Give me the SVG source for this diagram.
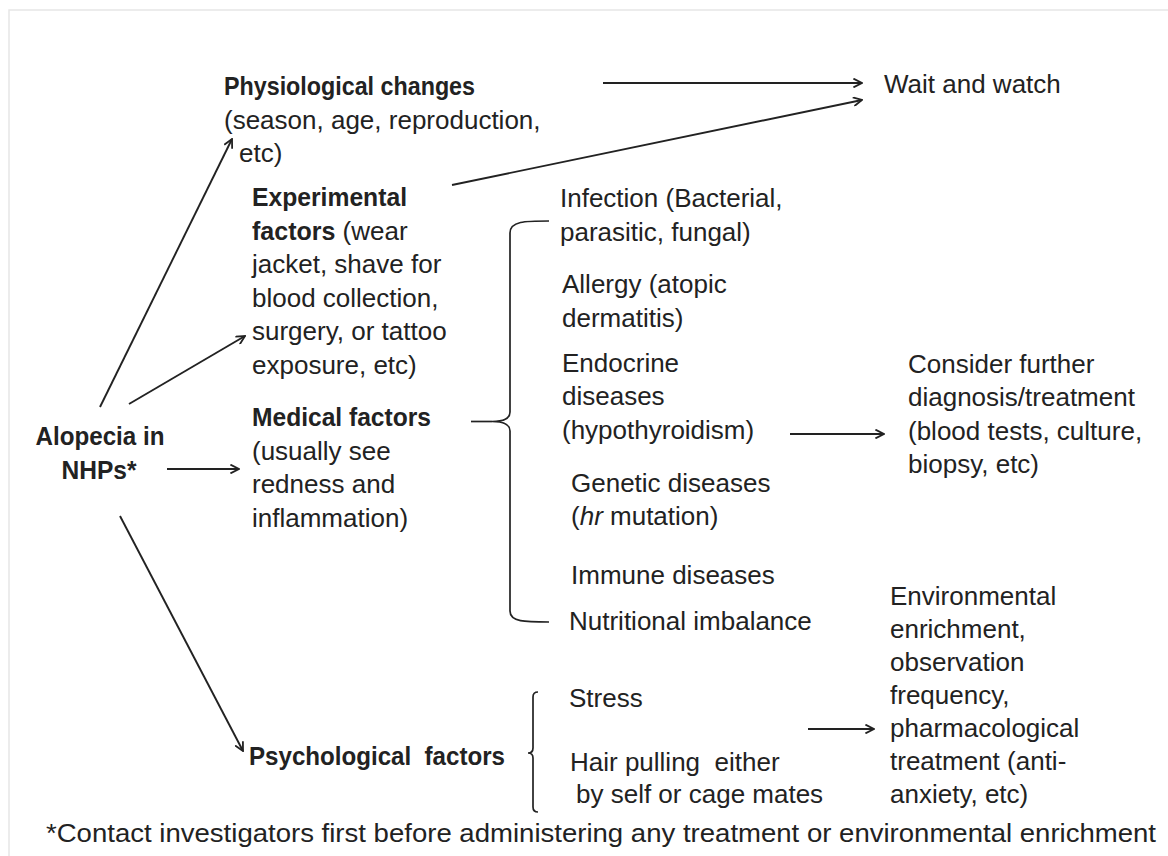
<svg xmlns="http://www.w3.org/2000/svg" width="1168" height="856" viewBox="0 0 1168 856">
<defs>
<marker id="arr" viewBox="0 0 10 10" refX="9.2" refY="5" markerWidth="10" markerHeight="10" markerUnits="userSpaceOnUse" orient="auto">
<path d="M0.6,0.6 L9.2,5 L0.6,9.4" fill="none" stroke="#222" stroke-width="1.8"/>
</marker>
</defs>
<style>
text{font-family:"Liberation Sans",Arial,sans-serif;font-size:26px;fill:#222}
.b{font-weight:bold;font-size:25px}
.c{stroke:#222;stroke-width:1.9;fill:none}
.br{stroke:#222;stroke-width:1.7;fill:none}
</style>
<rect width="1168" height="856" fill="#fff"/>
<path d="M9,856 L9,10 L1168,10" stroke="#e6e6e6" stroke-width="1.5" fill="none"/>

<g id="alopecia">
<text class="b" x="100" y="445" text-anchor="middle" textLength="129" lengthAdjust="spacingAndGlyphs">Alopecia in</text>
<text class="b" x="99" y="479" text-anchor="middle" textLength="75" lengthAdjust="spacingAndGlyphs">NHPs*</text>
</g>

<g id="physiological">
<text class="b" x="224" y="95" textLength="251" lengthAdjust="spacingAndGlyphs">Physiological changes</text>
<text x="224" y="128.5">(season, age, reproduction,</text>
<text x="239" y="162">etc)</text>
</g>

<g id="experimental">
<text class="b" x="252" y="206" textLength="155" lengthAdjust="spacingAndGlyphs">Experimental</text>
<text x="252" y="239.5" xml:space="preserve"><tspan class="b">factors</tspan> (wear</text>
<text x="252" y="273">jacket, shave for</text>
<text x="252" y="306.5">blood collection,</text>
<text x="252" y="340">surgery, or tattoo</text>
<text x="252" y="373.5">exposure, etc)</text>
</g>

<g id="medical">
<text class="b" x="252" y="426" textLength="179" lengthAdjust="spacingAndGlyphs">Medical factors</text>
<text x="252" y="459.5">(usually see</text>
<text x="252" y="493">redness and</text>
<text x="252" y="526.5">inflammation)</text>
</g>

<g id="psychological">
<text class="b" x="249" y="765" textLength="256" lengthAdjust="spacingAndGlyphs" xml:space="preserve">Psychological  factors</text>
</g>

<g id="wait">
<text x="884" y="93">Wait and watch</text>
</g>

<g id="infection">
<text x="560" y="207">Infection (Bacterial,</text>
<text x="560" y="240.5">parasitic, fungal)</text>
</g>

<g id="allergy">
<text x="562" y="293">Allergy (atopic</text>
<text x="562" y="326.5">dermatitis)</text>
</g>

<g id="endocrine">
<text x="562" y="372">Endocrine</text>
<text x="562" y="405">diseases</text>
<text x="562" y="438.5">(hypothyroidism)</text>
</g>

<g id="genetic">
<text x="571" y="491.5">Genetic diseases</text>
<text x="571" y="525">(<tspan font-style="italic">hr</tspan> mutation)</text>
</g>

<g id="immune">
<text x="571" y="584">Immune diseases</text>
</g>

<g id="nutritional">
<text x="569" y="630">Nutritional imbalance</text>
</g>

<g id="consider">
<text x="908" y="373">Consider further</text>
<text x="908" y="406">diagnosis/treatment</text>
<text x="908" y="439.5">(blood tests, culture,</text>
<text x="908" y="473">biopsy, etc)</text>
</g>

<g id="stress">
<text x="569" y="707">Stress</text>
</g>

<g id="hairpulling">
<text x="570" y="771" xml:space="preserve">Hair pulling  either</text>
<text x="576" y="803">by self or cage mates</text>
</g>

<g id="environmental">
<text x="890" y="605">Environmental</text>
<text x="890" y="638">enrichment,</text>
<text x="890" y="671">observation</text>
<text x="890" y="704">frequency,</text>
<text x="890" y="737">pharmacological</text>
<text x="890" y="770">treatment (anti-</text>
<text x="890" y="803">anxiety, etc)</text>
</g>

<g id="footnote">
<text x="46" y="842" textLength="1110" lengthAdjust="spacingAndGlyphs">*Contact investigators first before administering any treatment or environmental enrichment</text>
</g>

<g id="connectors">
<path class="c" d="M100,407 L232,139" marker-end="url(#arr)"/>
<path class="c" d="M129,404 L245,336" marker-end="url(#arr)"/>
<path class="c" d="M167,469 L239,469" marker-end="url(#arr)"/>
<path class="c" d="M120,516 L243,751" marker-end="url(#arr)"/>
<path class="c" d="M603,83 L862,83" marker-end="url(#arr)"/>
<path class="c" d="M452,185 L862,100" marker-end="url(#arr)"/>
<path class="c" d="M790,434 L884,434" marker-end="url(#arr)"/>
<path class="c" d="M808,729 L874,729" marker-end="url(#arr)"/>
<path class="br" d="M471,421.5 L492,421.5"/>
<path class="br" d="M549,221 C525,221 510,221 510,233 L510,412 C510,419 502,421.5 492,421.5 C502,421.5 510,424 510,431 L510,611 C510,622 525,622 549,622"/>
<path class="br" d="M538,692 Q533,692 533,697 L533,748 Q533,753 528,753 Q533,753 533,758 L533,807 Q533,812 538,812"/>
</g>
</svg>
